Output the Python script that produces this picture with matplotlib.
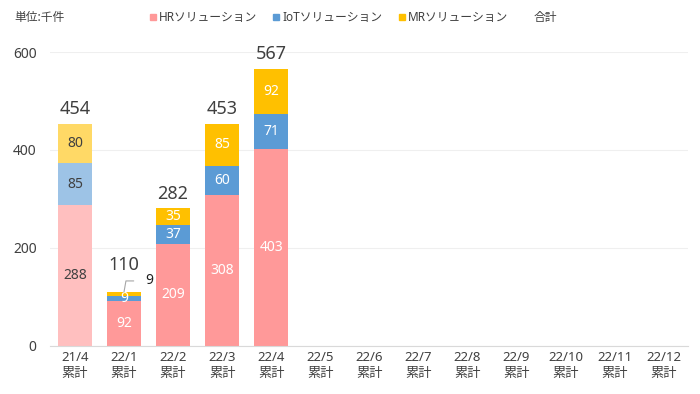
import matplotlib.pyplot as plt
from matplotlib.patches import Patch

plt.rcParams['font.family'] = ['Noto Sans', 'Noto Sans CJK JP', 'DejaVu Sans']

months = ["21/4", "22/1", "22/2", "22/3", "22/4", "22/5", "22/6",
          "22/7", "22/8", "22/9", "22/10", "22/11", "22/12"]
hr = [288, 92, 209, 308, 403]
iot = [85, 9, 37, 60, 71]
mr = [80, 9, 35, 85, 92]
totals = [454, 110, 282, 453, 567]

hr_col, iot_col, mr_col = "#FF9999", "#5B9BD5", "#FFC000"
pale = {"hr": "#FFBFBF", "iot": "#9DC3E6", "mr": "#FFD966"}
txt = "#404040"

fig = plt.figure(figsize=(7, 3.94), dpi=100)
ax = fig.add_axes([0.072, 0.122, 0.911, 0.746])

x = list(range(len(months)))
n = len(hr)
width = 0.68
for i in range(n):
    first = i == 0
    cols = [pale["hr"], pale["iot"], pale["mr"]] if first else [hr_col, iot_col, mr_col]
    lab_col = txt if first else "white"
    bottom = 0
    for j, v in enumerate([hr[i], iot[i], mr[i]]):
        ax.bar(i, v, width, bottom=bottom, color=cols[j], zorder=2)
        if not (i == 1 and j == 2):
            ax.text(i, bottom + v / 2, str(v), ha="center", va="center",
                    color=lab_col, fontsize=10, zorder=3)
        bottom += v
    # the 22/1 total sits higher to make room for the small MR label
    off = 13 if i == 1 else 4
    ax.annotate(str(totals[i]), (i, bottom), xytext=(0, off), textcoords="offset points",
                ha="center", va="bottom", fontsize=13, color=txt)

# small MR label for 22/1 with a leader line
ax.annotate(str(mr[1]), xy=(1, hr[1] + iot[1] + mr[1]), xytext=(15, 8),
            textcoords="offset points", ha="left", va="center", fontsize=10, color="#222222",
            arrowprops=dict(arrowstyle="-", color="#A6A6A6", lw=0.8,
                            connectionstyle="angle,angleA=0,angleB=80,rad=0",
                            shrinkA=6, shrinkB=0))

ax.set_xlim(-0.5, len(months) - 0.5)
ax.set_ylim(0, 600)
ax.set_yticks([0, 200, 400, 600])
ax.set_xticks(x)
ax.set_xticklabels([m + "\n累計" for m in months], fontsize=9.5, color=txt, linespacing=1.25)
ax.tick_params(axis="y", labelsize=10, labelcolor=txt, length=0, pad=10)
ax.tick_params(axis="x", length=0, pad=4)
ax.grid(axis="y", color="#EFEFEF", lw=0.8, zorder=0)
for s in ["top", "right", "left"]:
    ax.spines[s].set_visible(False)
ax.spines["bottom"].set_color("#D9D9D9")

fig.text(0.02, 0.955, "単位:千件", fontsize=8.5, color=txt, va="center")
handles = [Patch(color=hr_col), Patch(color=iot_col), Patch(color=mr_col),
           Patch(color="none")]
fig.legend(handles, ["HRソリューション", "IoTソリューション", "MRソリューション", "合計"],
           loc="center", bbox_to_anchor=(0.505, 0.955), ncol=4, frameon=False,
           fontsize=8.5, handlelength=0.5, handleheight=0.5, handletextpad=0.3,
           columnspacing=1.35, labelcolor=txt)

fig.savefig("out.png", dpi=100)
